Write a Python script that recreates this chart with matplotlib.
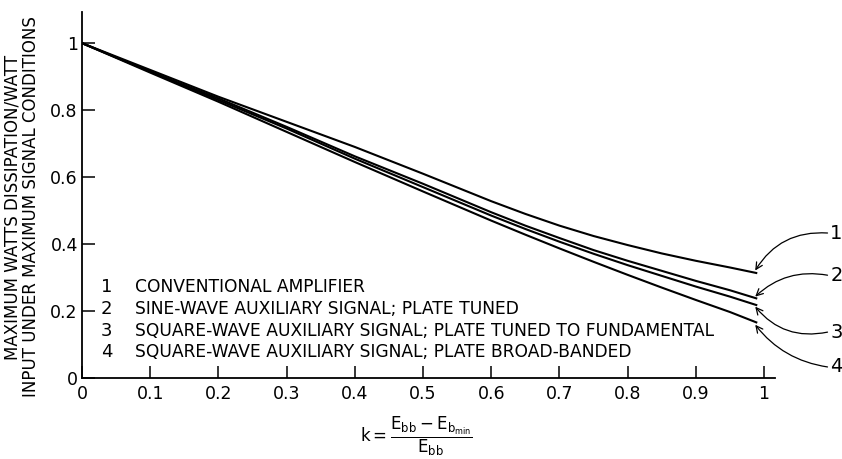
import numpy as np
import matplotlib
matplotlib.use('Agg')
import matplotlib.pyplot as plt

# values
k = [0.0, 0.1, 0.2, 0.3, 0.4, 0.5, 0.6, 0.65, 0.7, 0.75, 0.8, 0.85, 0.9, 0.95, 0.99]
curve1 = [1.0, 0.92, 0.84, 0.765, 0.69, 0.61, 0.528, 0.49, 0.455, 0.424, 0.397, 0.372, 0.35, 0.33, 0.313]
curve2 = [1.0, 0.915, 0.835, 0.75, 0.662, 0.58, 0.495, 0.455, 0.418, 0.382, 0.35, 0.32, 0.29, 0.262, 0.237]
curve3 = [1.0, 0.915, 0.83, 0.745, 0.655, 0.57, 0.485, 0.445, 0.407, 0.371, 0.337, 0.305, 0.273, 0.243, 0.217]
curve4 = [1.0, 0.912, 0.825, 0.735, 0.645, 0.557, 0.47, 0.428, 0.387, 0.347, 0.308, 0.27, 0.233, 0.197, 0.165]

legend_nums = ['1', '2', '3', '4']
legend_text = ['CONVENTIONAL AMPLIFIER',
               'SINE-WAVE AUXILIARY SIGNAL; PLATE TUNED',
               'SQUARE-WAVE AUXILIARY SIGNAL; PLATE TUNED TO FUNDAMENTAL',
               'SQUARE-WAVE AUXILIARY SIGNAL; PLATE BROAD-BANDED']

xticks = [0, 0.1, 0.2, 0.3, 0.4, 0.5, 0.6, 0.7, 0.8, 0.9, 1.0]
xticklabels = ['0', '0.1', '0.2', '0.3', '0.4', '0.5', '0.6', '0.7', '0.8', '0.9', '1']
yticks = [0, 0.2, 0.4, 0.6, 0.8, 1.0]
yticklabels = ['0', '0.2', '0.4', '0.6', '0.8', '1']

plt.rcParams['font.family'] = 'DejaVu Sans'
plt.rcParams['mathtext.fontset'] = 'dejavusans'

W, H = 842, 459
fig = plt.figure(figsize=(W / 100, H / 100), dpi=100)
ax = fig.add_axes([82 / W, (H - 378) / H, (775 - 82) / W, (378 - 12) / H])

curves = [curve1, curve2, curve3, curve4]
for ys in curves:
    ax.plot(k, ys, color='black', lw=1.5, solid_capstyle='butt')

ax.set_xlim(0, 1.016)
ax.set_ylim(0, 1.093)
ax.spines['top'].set_visible(False)
ax.spines['right'].set_visible(False)
for s in ('left', 'bottom'):
    ax.spines[s].set_linewidth(1.3)
ax.set_xticks(xticks)
ax.set_xticklabels(xticklabels)
ax.set_yticks(yticks)
ax.set_yticklabels(yticklabels)
ax.tick_params(direction='in', length=9, width=1.1, labelsize=12.5)
ax.tick_params(axis='y', pad=3)
ax.tick_params(axis='x', pad=5)

# legend written inside the plot
ys_leg = [0.272, 0.206, 0.140, 0.078]
for num, txt, yy in zip(legend_nums, legend_text, ys_leg):
    ax.text(0.036, yy, num, ha='center', va='center', fontsize=13)
    ax.text(0.077, yy, txt, ha='left', va='center', fontsize=12.3)

# curve labels with curved arrows
label_y = [0.433, 0.307, 0.137, 0.033]
rads = [0.3, 0.25, -0.3, -0.2]
head_dy = [0.008, 0.006, -0.004, -0.006]
for num, ys, ly, r, dy in zip(legend_nums, curves, label_y, rads, head_dy):
    ax.annotate('', xy=(k[-1] - 0.003, ys[-1] + dy), xytext=(1.093, ly),
                arrowprops=dict(arrowstyle='->', color='black', lw=0.9,
                                connectionstyle='arc3,rad=%s' % r,
                                shrinkA=0, shrinkB=0, mutation_scale=12),
                annotation_clip=False)
    ax.text(1.106, ly, num, ha='center', va='center', fontsize=14,
            clip_on=False)

fig.text(22 / W, (H - 207) / H,
         'MAXIMUM WATTS DISSIPATION/WATT\nINPUT UNDER MAXIMUM SIGNAL CONDITIONS',
         rotation=90, ha='center', va='center', fontsize=12,
         multialignment='center', linespacing=1.0)

fig.text(416 / W, (H - 436) / H,
         r'$\mathrm{k} = \dfrac{\mathrm{E_{bb}} - \mathrm{E_{b_{min}}}}{\mathrm{E_{bb}}}$',
         ha='center', va='center', fontsize=12)

fig.savefig('out.png', dpi=100)
